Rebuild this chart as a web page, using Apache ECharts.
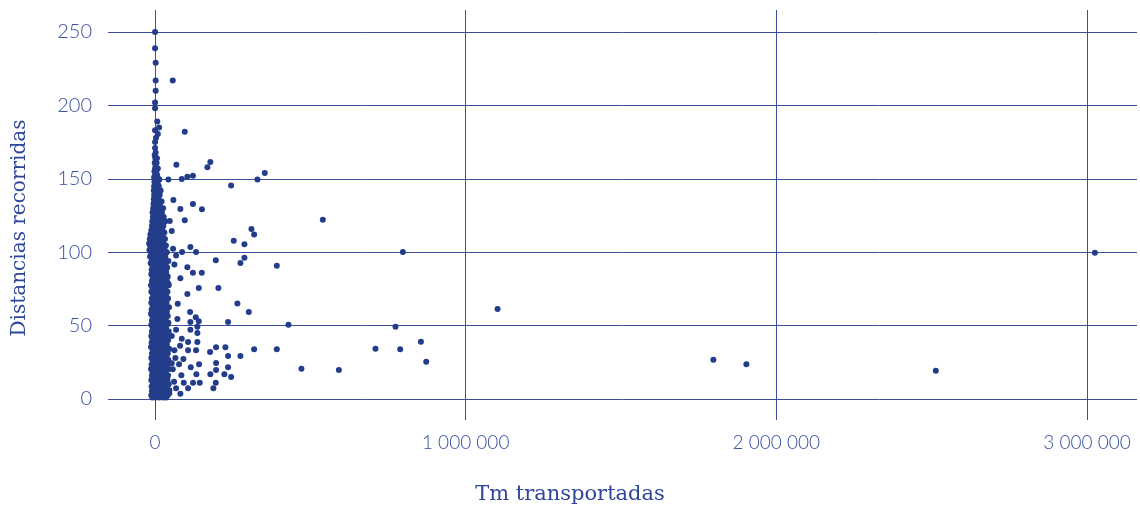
<!DOCTYPE html>
<html>
<head>
<meta charset="utf-8">
<script src="https://cdn.jsdelivr.net/npm/echarts@6/dist/echarts.min.js"></script>
<style>
  html, body { margin: 0; padding: 0; background: #fff; }
  #chart { width: 1140px; height: 511px; }
</style>
</head>
<body>
<div id="chart"></div>
<script>
// Tm transportadas (x) vs distancias recorridas (y)

// dense column near x = 0, stored as [distance, [tonnes...]]
const columnBands = [
  [1, [-9000, 2000, 14000, 27000, 36000]],
  [2.5, [-12000, 6000, 20000, 41000]],
  [4, [-4000, 10000, 31000, 46000]],
  [5.5, [-10000, 3000, 17000, 25000]],
  [7, [-6000, 8000, 22000, 38000]],
  [8.5, [-11000, 1000, 13000, 29000]],
  [10, [-3000, 11000, 19000, 34000, 44000]],
  [11.5, [-8000, 5000, 24000]],
  [13, [-12000, 0, 15000, 28000, 40000]],
  [14.5, [-5000, 9000, 21000, 33000]],
  [16, [-10000, 4000, 17000, 26000, 42000]],
  [17.5, [-2000, 12000, 30000]],
  [19, [-9000, 7000, 20000, 36000]],
  [20.5, [-13000, 2000, 15000, 25000, 45000]],
  [22, [-6000, 10000, 23000, 32000]],
  [23.5, [-11000, 4000, 18000, 39000]],
  [25, [-3000, 8000, 27000, 35000]],
  [26.5, [-8000, 14000, 21000, 43000]],
  [28, [-12000, 1000, 11000, 30000]],
  [29.5, [-5000, 6000, 19000, 37000]],
  [31, [-10000, 3000, 16000, 26000, 41000]],
  [32.5, [-2000, 12000, 23000]],
  [34, [-8000, 7000, 20000, 33000, 46000]],
  [35.5, [-13000, 0, 14000, 28000]],
  [37, [-6000, 9000, 24000, 38000]],
  [38.5, [-11000, 3000, 17000, 31000]],
  [40, [-4000, 11000, 22000, 42000]],
  [41.5, [-9000, 5000, 19000, 35000]],
  [43, [-12000, 1000, 13000, 27000, 40000]],
  [44.5, [-6000, 8000, 25000]],
  [46, [-10000, 4000, 16000, 30000, 44000]],
  [47.5, [-2000, 12000, 21000, 36000]],
  [49, [-8000, 6000, 18000, 33000]],
  [50.5, [-12000, 2000, 15000, 27000, 39000]],
  [52, [-5000, 10000, 23000, 43000]],
  [53.5, [-10000, 4000, 17000, 31000]],
  [55, [-3000, 9000, 20000, 35000]],
  [56.5, [-9000, 1000, 14000, 26000, 41000]],
  [58, [-13000, 7000, 22000, 32000]],
  [59.5, [-6000, 3000, 16000, 38000]],
  [61, [-11000, 11000, 24000, 29000]],
  [62.5, [-4000, 5000, 18000, 34000, 45000]],
  [64, [-8000, 13000, 21000]],
  [65.5, [-12000, 0, 9000, 27000, 37000]],
  [67, [-5000, 6000, 19000, 31000]],
  [68.5, [-10000, 2000, 15000, 25000, 42000]],
  [70, [-2000, 10000, 22000, 36000]],
  [71.5, [-7000, 4000, 17000, 30000]],
  [73, [-12000, 8000, 20000, 40000]],
  [74.5, [-4000, 1000, 14000, 26000]],
  [76, [-9000, 6000, 23000, 34000]],
  [77.5, [-13000, 11000, 18000, 44000]],
  [79, [-5000, 3000, 16000, 29000]],
  [80.5, [-10000, 7000, 21000, 38000]],
  [82, [-3000, 12000, 25000, 33000]],
  [83.5, [-8000, 0, 15000, 41000]],
  [85, [-12000, 5000, 19000, 28000]],
  [86.5, [-6000, 9000, 24000, 36000]],
  [88, [-11000, 2000, 13000, 31000]],
  [89.5, [-3000, 7000, 20000, 39000]],
  [91, [-9000, 4000, 17000, 27000]],
  [92.5, [-14000, 10000, 22000, 35000]],
  [94, [-6000, 1000, 14000, 30000, 43000]],
  [95.5, [-11000, 6000, 19000, 25000]],
  [97, [-16000, -2000, 11000, 33000]],
  [98.5, [-8000, 4000, 16000, 28000]],
  [100, [-13000, 8000, 21000, 38000]],
  [101.5, [-18000, -4000, 2000, 13000, 31000]],
  [103, [-10000, 6000, 17000, 24000]],
  [104.5, [-16000, -1000, 10000, 35000]],
  [106, [-19000, -7000, 4000, 15000, 27000]],
  [107.5, [-13000, 1000, 12000, 22000]],
  [109, [-17000, -5000, 7000, 19000, 32000]],
  [110.5, [-10000, 3000, 14000, 26000]],
  [112, [-15000, -2000, 9000, 21000]],
  [113.5, [-8000, 5000, 16000, 30000]],
  [115, [-12000, 0, 11000, 24000]],
  [116.5, [-6000, 7000, 18000]],
  [118, [-10000, 2000, 13000, 27000]],
  [119.5, [-4000, 8000, 20000]],
  [121, [-9000, 4000, 15000, 33000]],
  [122.5, [-2000, 10000, 23000]],
  [124, [-7000, 1000, 12000, 28000]],
  [125.5, [-4000, 6000, 17000]],
  [127, [-8000, 3000, 14000, 22000]],
  [128.5, [-2000, 8000, 19000]],
  [130, [-6000, 5000, 11000, 26000]],
  [131.5, [-1000, 9000, 16000]],
  [133, [-5000, 3000, 13000]],
  [134.5, [0, 7000, 21000]],
  [136, [-4000, 4000, 12000]],
  [137.5, [-1000, 8000]],
  [139, [-3000, 5000, 15000]],
  [140.5, [0, 10000]],
  [142, [-4000, 3000, 18000]],
  [143.5, [-1000, 7000]],
  [145, [-3000, 4000, 12000]],
  [146.5, [1000, 9000]],
  [148, [-2000, 5000]],
  [149.5, [0, 14000]],
  [151, [-3000, 3000, 8000]],
  [153, [1000, 6000]],
  [155, [-2000, 4000]],
  [157, [0, 9000]],
  [159, [2000]],
  [161, [-1000, 5000]],
  [164, [1000, 6000]],
  [166, [-1000]],
  [168, [2000]],
  [171, [0]],
  [175, [0]],
  [178, [3000]],
  [180.5, [9000]],
  [183, [0]],
  [185, [13000]],
  [189, [7000]],
  [198, [0]],
  [202, [0]],
  [210, [2000]],
  [217, [2000]],
  [229, [2000]],
  [239, [0]],
  [250, [0]]
];

// scattered points up to ~450 000 t, [tonnes, distance]
const midPoints = [
  [57000, 217], [95700, 182], [68700, 159.6], [168600, 157.8], [178000, 161.4],
  [43000, 149.6], [86000, 149.9], [104000, 151.4], [122000, 152], [329700, 149.6],
  [353400, 154], [244900, 145.5], [59000, 135.6], [122000, 132.8], [151000, 129.2],
  [81500, 129.4], [95700, 121.7], [47400, 121.3], [53800, 114.4], [253500, 107.8],
  [310400, 115.8], [319000, 112], [287800, 105.4], [113800, 103.5], [132000, 100.1],
  [87000, 100.1], [58000, 102.4], [67700, 97.8], [195600, 94.5], [287800, 96.3],
  [274900, 92.6], [392000, 90.8], [62200, 91.7], [104000, 89.7], [122000, 86],
  [150500, 86], [81500, 82.2], [43000, 78.5], [140800, 75.6], [204000, 75.6],
  [104000, 71.5], [73100, 64.9], [265200, 65.1], [301900, 59.3], [112800, 59.3],
  [131100, 55.7], [71900, 54.5], [140800, 52.9], [113800, 52.5], [235200, 52.5],
  [429500, 50.6], [136300, 49.3], [67700, 47.2], [113800, 47.2], [136300, 45],
  [53800, 42.9], [86000, 41.1], [106300, 38.8], [136300, 38.8], [62200, 33.2],
  [80500, 36.3], [106300, 33.2], [132100, 33.2], [196500, 35.2], [226500, 35.2],
  [319000, 33.9], [392000, 33.9], [177200, 32], [235200, 29.3], [274900, 29.3],
  [65500, 27.9], [91300, 27.2], [196500, 24.5], [53800, 24.3], [77300, 23.6],
  [115000, 21.6], [141800, 23.6], [235200, 21.6], [196500, 19.8], [57000, 20.2],
  [84700, 16.1], [133000, 16.8], [178200, 16.8], [223200, 16.8], [244900, 15],
  [61200, 11.8], [92500, 11.1], [122400, 11.1], [144000, 11.1], [195600, 11.1],
  [187800, 7.3], [106300, 7.3], [67700, 7.3], [81500, 3.6], [46100, 5.9]
];

// outliers, [tonnes, distance]
const farPoints = [
  [540300, 122.1], [798000, 100.1], [774300, 49.3], [1103000, 61.3], [709800, 34.3],
  [789400, 33.9], [856100, 39], [873200, 25.4], [471400, 20.6], [591900, 19.8],
  [1797800, 26.8], [1904200, 23.6], [2514200, 19.3], [3026400, 99.7]
];

const yTicks = [0, 50, 100, 150, 200, 250];
const xTicks = [0, 1000000, 2000000, 3000000];

const points = [];
columnBands.forEach(b => b[1].forEach(x => points.push([x, b[0]])));
midPoints.forEach(p => points.push(p));
farPoints.forEach(p => points.push(p));

const lineColor = '#3b4e9c';
const labelColor = '#3a52a3';

function fmt(v) {
  return String(v).replace(/\B(?=(\d{3})+(?!\d))/g, ' ');
}

const chart = echarts.init(document.getElementById('chart'));
chart.setOption({
  animation: false,
  grid: [
    { left: 108, right: 3, top: 32, bottom: 112 },
    { left: 155, right: 53, top: 10, bottom: 91 }
  ],
  xAxis: [
    { gridIndex: 0, type: 'value', min: -151500, max: 3162000, show: false },
    {
      gridIndex: 1, type: 'value', min: xTicks[0], max: xTicks[xTicks.length - 1], interval: 1000000,
      axisLine: { show: false },
      axisTick: { show: false },
      axisLabel: {
        margin: 13, color: labelColor, fontFamily: 'Lato', fontWeight: 300, fontSize: 19,
        formatter: fmt
      },
      splitLine: { show: true, lineStyle: { color: lineColor, width: 1 } }
    }
  ],
  yAxis: [
    {
      gridIndex: 0, type: 'value', min: yTicks[0], max: yTicks[yTicks.length - 1], interval: 50,
      axisLine: { show: false },
      axisTick: { show: false },
      axisLabel: { margin: 16, color: labelColor, fontFamily: 'Lato', fontWeight: 300, fontSize: 20 },
      splitLine: { show: true, lineStyle: { color: lineColor, width: 1 } }
    },
    { gridIndex: 1, type: 'value', show: false, splitLine: { show: false } }
  ],
  graphic: [
    {
      type: 'text', left: 'center', top: 484,
      style: { text: 'Tm transportadas', fill: '#2f4699', font: '21px "DejaVu Serif"' }
    },
    {
      type: 'text', x: 20, y: 228, rotation: Math.PI / 2,
      style: {
        text: 'Distancias recorridas', fill: '#2f4699', font: '20px "DejaVu Serif"',
        align: 'center', verticalAlign: 'middle'
      },
      originX: 0, originY: 0
    }
  ],
  series: [
    {
      type: 'scatter',
      xAxisIndex: 0,
      yAxisIndex: 0,
      data: points,
      symbolSize: 6,
      itemStyle: { color: '#233d8a', opacity: 1 }
    }
  ]
});
</script>
</body>
</html>
